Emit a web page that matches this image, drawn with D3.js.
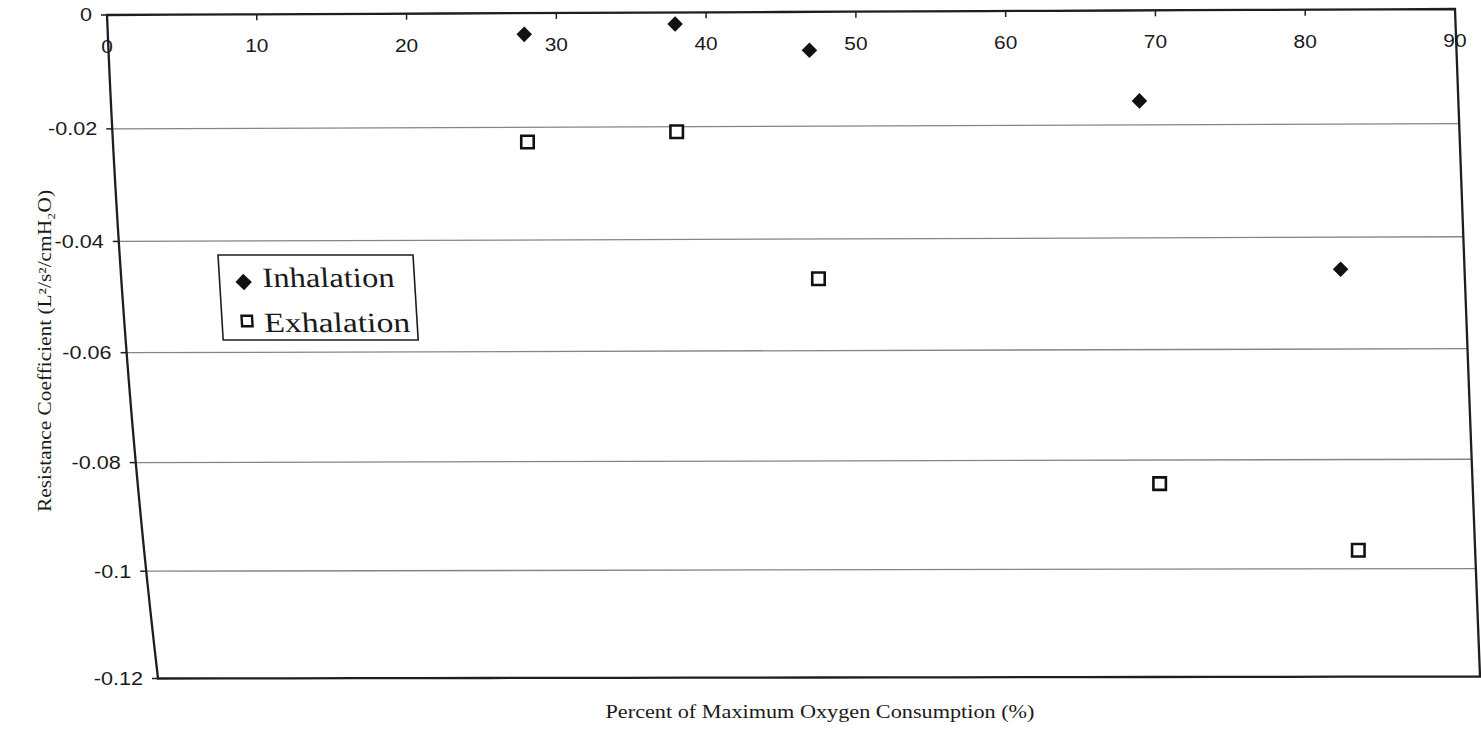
<!DOCTYPE html>
<html>
<head>
<meta charset="utf-8">
<script src="https://cdn.jsdelivr.net/npm/d3@7"></script>
<style>
	body { margin: 0; background: #fff; }
	svg { display: block; }
</style>
</head>
<body>
<div id="my_dataviz"></div>
<script>
// data
const xTicks = [0, 10, 20, 30, 40, 50, 60, 70, 80, 90];
const yTicks = [0, -0.02, -0.04, -0.06, -0.08, -0.1, -0.12];
const yTickLabels = ["0", "-0.02", "-0.04", "-0.06", "-0.08", "-0.1", "-0.12"];
const seriesNames = ["Inhalation", "Exhalation"];
const inhX = [27.8, 37.9, 46.8, 68.7, 81.7];
const inhY = [-0.0037, -0.002, -0.0067, -0.0158, -0.0457];
const exhX = [27.7, 37.7, 46.7, 68.9, 82.1];
const exhY = [-0.0226, -0.0209, -0.0471, -0.0843, -0.0966];

const W = 1481, H = 732;

const svg = d3
	.select("#my_dataviz")
	.append("svg")
	.attr("width", W)
	.attr("height", H);

// scales go to fractions of the plot box, the box itself is warped like the scan
const x = d3.scaleLinear().domain([0, 90]).range([0, 1]);
const y = d3.scaleLinear().domain([0, -0.12]).range([0, 1]);

function warp(u, v) {
	const xl = 107 + 27.4 * v + 23.6 * v * v;
	const xr = 1455 + 25 * v;
	return [xl + u * (xr - xl), 15 + 687.2 * v - 23.7 * v * v - (6 - 4 * v) * u];
}

const line = d3.line();
const steps = d3.range(0, 1.0001, 0.05);

// gridlines
svg.append("g")
	.selectAll("line")
	.data(yTicks.slice(1, -1))
	.join("line")
	.attr("x1", (d) => warp(0, y(d))[0])
	.attr("y1", (d) => warp(0, y(d))[1])
	.attr("x2", (d) => warp(1, y(d))[0])
	.attr("y2", (d) => warp(1, y(d))[1])
	.attr("stroke", "#858585")
	.attr("stroke-width", 1.3);

// frame
const frame = []
	.concat(steps.map((t) => warp(t, 0)))
	.concat(steps.map((t) => warp(1, t)))
	.concat(steps.map((t) => warp(1 - t, 1)))
	.concat(steps.map((t) => warp(0, 1 - t)));
svg.append("path")
	.attr("d", line(frame) + "Z")
	.attr("fill", "none")
	.attr("stroke", "#1e1e1e")
	.attr("stroke-width", 2.3);

// y ticks and labels
const yAxis = svg.append("g");
yTicks.forEach((d, i) => {
	const p = warp(0, y(d));
	yAxis.append("line")
		.attr("x1", p[0] - 6)
		.attr("x2", p[0])
		.attr("y1", p[1])
		.attr("y2", p[1])
		.attr("stroke", "#1e1e1e")
		.attr("stroke-width", 1.5);
	yAxis.append("text")
		.attr("transform", `translate(${p[0] - 15},${p[1]}) scale(1.2,1)`)
		.attr("dy", "0.36em")
		.attr("text-anchor", "end")
		.style("font-family", "'Liberation Sans', Arial, sans-serif")
		.style("font-size", "18px")
		.attr("fill", "#1a1a1a")
		.text(yTickLabels[i]);
});

// x ticks and labels along the top edge
const xAxis = svg.append("g");
xTicks.forEach((d) => {
	const p = warp(x(d), 0);
	xAxis.append("line")
		.attr("x1", p[0])
		.attr("x2", p[0])
		.attr("y1", p[1])
		.attr("y2", p[1] + 6)
		.attr("stroke", "#1e1e1e")
		.attr("stroke-width", 1.5);
	xAxis.append("text")
		.attr("transform", `translate(${p[0]},${p[1] + 38}) scale(1.1,1)`)
		.attr("text-anchor", "middle")
		.style("font-family", "'Liberation Sans', Arial, sans-serif")
		.style("font-size", "19px")
		.attr("fill", "#1a1a1a")
		.text(d);
});

// points
const diamond = d3.symbol(d3.symbolSquare, 121);
const square = d3.symbol(d3.symbolSquare, 156);

svg.append("g")
	.selectAll("path")
	.data(inhX.map((d, i) => [d, inhY[i]]))
	.join("path")
	.attr("d", diamond)
	.attr("transform", (d) => {
		const p = warp(x(d[0]), y(d[1]));
		return `translate(${p[0]},${p[1]}) rotate(45)`;
	})
	.attr("fill", "#111");

svg.append("g")
	.selectAll("path")
	.data(exhX.map((d, i) => [d, exhY[i]]))
	.join("path")
	.attr("d", square)
	.attr("transform", (d) => {
		const p = warp(x(d[0]), y(d[1]));
		return `translate(${p[0]},${p[1]})`;
	})
	.attr("fill", "#fff")
	.attr("stroke", "#111")
	.attr("stroke-width", 2.6);

// legend
const legend = svg.append("g").attr("transform", "translate(218,255) skewX(3.5)");
legend.append("rect")
	.attr("width", 195)
	.attr("height", 85)
	.attr("fill", "#fff")
	.attr("stroke", "#1e1e1e")
	.attr("stroke-width", 1.6);
legend.append("path")
	.attr("d", d3.symbol(d3.symbolSquare, 135))
	.attr("transform", "translate(24,27) rotate(45)")
	.attr("fill", "#111");
legend.append("path")
	.attr("d", d3.symbol(d3.symbolSquare, 110))
	.attr("transform", "translate(25,66)")
	.attr("fill", "#fff")
	.attr("stroke", "#111")
	.attr("stroke-width", 2.4);
legend.append("text")
	.attr("x", 43)
	.attr("y", 32)
	.attr("textLength", 132)
	.attr("lengthAdjust", "spacingAndGlyphs")
	.style("font-family", "'Liberation Serif', 'Times New Roman', serif")
	.style("font-size", "28px")
	.attr("fill", "#1a1a1a")
	.text(seriesNames[0]);
legend.append("text")
	.attr("x", 42)
	.attr("y", 77)
	.attr("textLength", 146)
	.attr("lengthAdjust", "spacingAndGlyphs")
	.style("font-family", "'Liberation Serif', 'Times New Roman', serif")
	.style("font-size", "28px")
	.attr("fill", "#1a1a1a")
	.text(seriesNames[1]);

// axis titles
svg.append("text")
	.attr("x", 820)
	.attr("y", 718)
	.attr("text-anchor", "middle")
	.attr("textLength", 429)
	.attr("lengthAdjust", "spacingAndGlyphs")
	.style("font-family", "'Liberation Serif', 'Times New Roman', serif")
	.style("font-size", "18px")
	.attr("fill", "#1a1a1a")
	.text("Percent of Maximum Oxygen Consumption (%)");

svg.append("text")
	.attr("transform", "translate(51,351) rotate(-90)")
	.attr("text-anchor", "middle")
	.attr("textLength", 322)
	.attr("lengthAdjust", "spacingAndGlyphs")
	.style("font-family", "'Liberation Serif', 'Times New Roman', serif")
	.style("font-size", "18px")
	.attr("fill", "#1a1a1a")
	.text("Resistance Coefficient (L²/s²/cmH₂O)");
</script>
</body>
</html>
